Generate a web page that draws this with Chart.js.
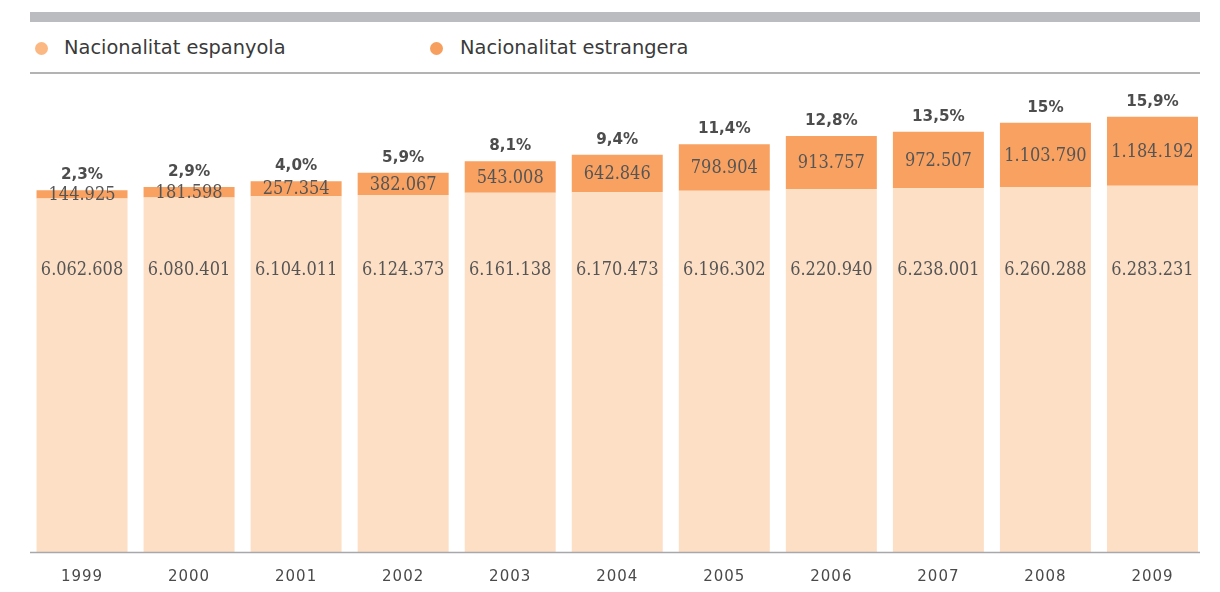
<!DOCTYPE html>
<html>
<head>
<meta charset="utf-8">
<script src="https://cdn.jsdelivr.net/npm/chart.js@4.4.1/dist/chart.umd.min.js"></script>
<style>
  html, body { margin: 0; padding: 0; background: #ffffff; }
  #wrap { position: relative; width: 1220px; height: 592px; overflow: hidden; }
  #chartBox { position: absolute; left: 0; top: 0; width: 1220px; height: 608px; }
  #topbar { position: absolute; left: 30px; top: 12px; width: 1170px; height: 10px; background: #bbbcc0; }
  #legline { position: absolute; left: 30px; top: 72px; width: 1170px; height: 1.5px; background: #b3b3b3; }
  .leg { position: absolute; top: 35px; font-family: "DejaVu Sans", sans-serif; font-size: 19.4px; color: #3a3a3a; white-space: nowrap; line-height: 26px; }
  .dot { position: absolute; top: 42px; width: 13px; height: 13px; border-radius: 50%; }
</style>
</head>
<body>
<div id="wrap">
  <div id="topbar"></div>
  <div class="dot" style="left:35px; background:#fbb883;"></div>
  <div class="leg" style="left:64px;">Nacionalitat espanyola</div>
  <div class="dot" style="left:430px; background:#f79f5e;"></div>
  <div class="leg" style="left:460px;">Nacionalitat estrangera</div>
  <div id="legline"></div>
  <div id="chartBox"><canvas id="c"></canvas></div>
</div>
<script>
const years = ["1999","2000","2001","2002","2003","2004","2005","2006","2007","2008","2009"];
const spanish = [6062608, 6080401, 6104011, 6124373, 6161138, 6170473, 6196302, 6220940, 6238001, 6260288, 6283231];
const foreign = [144925, 181598, 257354, 382067, 543008, 642846, 798904, 913757, 972507, 1103790, 1184192];
const foreignShare = ["2,3%", "2,9%", "4,0%", "5,9%", "8,1%", "9,4%", "11,4%", "12,8%", "13,5%", "15%", "15,9%"];
const seriesNames = ["Nacionalitat espanyola", "Nacionalitat estrangera"];

function fmt(n) {
  return String(n).replace(/\B(?=(\d{3})+(?!\d))/g, ".");
}

const SPANISH_LABEL_VALUE = 4840000;

const spacingPlugin = {
  id: "spacing",
  beforeDraw(chart) { chart.ctx.letterSpacing = "1px"; },
  beforeDatasetsDraw(chart) { chart.ctx.letterSpacing = "0px"; }
};

const labelPlugin = {
  id: "labels",
  afterDatasetsDraw(chart) {
    const ctx = chart.ctx;
    const m0 = chart.getDatasetMeta(0);
    const m1 = chart.getDatasetMeta(1);
    const yS = chart.scales.y;
    ctx.save();
    ctx.letterSpacing = "0px";
    ctx.textAlign = "center";
    ctx.fillStyle = "#555555";
    ctx.font = "18px 'DejaVu Serif Condensed', 'DejaVu Serif', serif";
    try { ctx.fontStretch = "condensed"; } catch (e) {}
    ctx.textBaseline = "middle";
    m0.data.forEach((bar, i) => {
      ctx.fillText(fmt(spanish[i]), bar.x, yS.getPixelForValue(SPANISH_LABEL_VALUE));
    });
    m1.data.forEach((bar, i) => {
      ctx.fillText(fmt(foreign[i]), bar.x, (bar.y + bar.base) / 2 + 1);
    });
    try { ctx.fontStretch = "normal"; } catch (e) {}
    ctx.font = "bold 15.2px 'DejaVu Sans', sans-serif";
    ctx.textBaseline = "alphabetic";
    ctx.fillStyle = "#4d4d4d";
    m1.data.forEach((bar, i) => {
      ctx.fillText(foreignShare[i], bar.x, bar.y - 11);
    });
    const a = chart.chartArea;
    ctx.strokeStyle = "#a8a8ac";
    ctx.lineWidth = 1.5;
    ctx.beginPath();
    ctx.moveTo(30, a.bottom + 0.5);
    ctx.lineTo(1200, a.bottom + 0.5);
    ctx.stroke();
    ctx.restore();
  }
};

new Chart(document.getElementById("c"), {
  type: "bar",
  data: {
    labels: years,
    datasets: [
      { label: seriesNames[0], data: spanish, backgroundColor: "#fddfc5", borderWidth: 0 },
      { label: seriesNames[1], data: foreign, backgroundColor: "#f8a161", borderWidth: 0 }
    ]
  },
  options: {
    responsive: true,
    maintainAspectRatio: false,
    animation: false,
    layout: { padding: { left: 28.5, right: 14, top: 74, bottom: 6 } },
    plugins: { legend: { display: false }, tooltip: { enabled: false } },
    datasets: { bar: { categoryPercentage: 1, barPercentage: 0.85 } },
    scales: {
      x: {
        stacked: true,
        grid: { display: false, drawTicks: false },
        border: { display: false },
        ticks: { color: "#4a4a4a", padding: 16, font: { family: "DejaVu Sans", size: 15 } }
      },
      y: {
        stacked: true,
        display: false,
        min: 0,
        max: 8200000
      }
    }
  },
  plugins: [spacingPlugin, labelPlugin]
});
</script>
</body>
</html>
